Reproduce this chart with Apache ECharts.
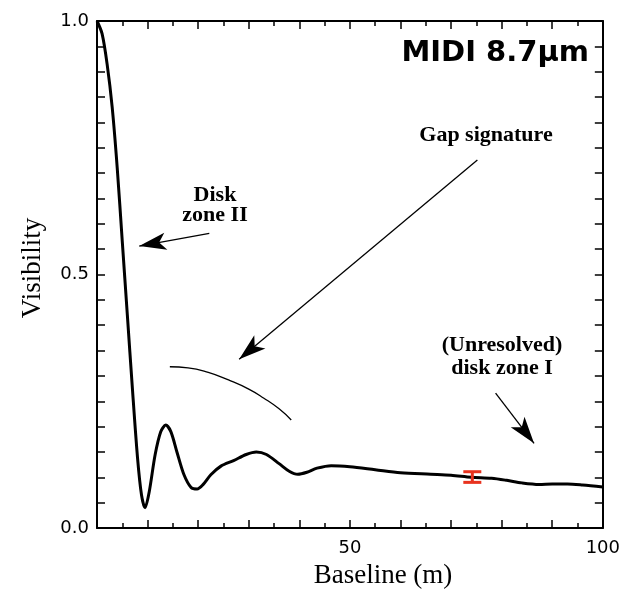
<!DOCTYPE html>
<html>
<head>
<meta charset="utf-8">
<script src="https://cdn.jsdelivr.net/npm/echarts@6/dist/echarts.min.js"></script>
<style>
  html, body { margin: 0; padding: 0; background: #fff; }
  #chart { width: 623px; height: 589px; }
</style>
</head>
<body>
<div id="chart"></div>
<script>
// model visibility curve (baseline in m, visibility)
const baseline = [0, 1, 2, 3, 4, 5, 6, 7, 8, 8.8, 9.5, 10.3, 11.5, 12.6, 13.6, 14.6, 15.8, 17.2, 18.6, 19.8,
  21, 22.5, 24.5, 27, 29.5, 31.5, 33.5, 36, 38, 39.7, 41.5, 43.5, 46.3, 50, 55, 60, 66, 70, 74, 78,
  81, 84, 87.4, 90, 93, 96, 100]
const visibility = [1.0, 0.975, 0.915, 0.83, 0.71, 0.565, 0.42, 0.275, 0.14, 0.065, 0.04, 0.07, 0.145, 0.19, 0.203, 0.19, 0.15, 0.105, 0.08, 0.077,
  0.086, 0.105, 0.122, 0.133, 0.145, 0.15, 0.145, 0.127, 0.112, 0.106, 0.110, 0.118, 0.123, 0.121, 0.115, 0.109, 0.106, 0.104, 0.100, 0.098,
  0.094, 0.089, 0.086, 0.087, 0.087, 0.085, 0.081]

// gap signature arc
const gapX = [14.4, 18, 22, 26, 30, 33, 36, 38.4]
const gapY = [0.318, 0.316, 0.307, 0.292, 0.274, 0.256, 0.235, 0.213]

// MIDI measurement: [baseline, low, high]
const midiPoint = [[74.2, 0.090, 0.111]]

// annotation arrows: [fromX, fromY, toX, toY]
const arrows = [
  [22.2, 0.581, 8.35, 0.556],
  [75.2, 0.726, 28.1, 0.333],
  [78.8, 0.266, 86.4, 0.167]
]

const xLabels = [50, 100]
const yLabels = [0, 0.5, 1]

const chart = echarts.init(document.getElementById('chart'))

const serif = '"Liberation Serif", "DejaVu Serif", serif'
const sans = '"DejaVu Sans", "Liberation Sans", sans-serif'

function xAxisOf (pos) {
  return {
    type: 'value', position: pos, min: 0, max: 100, interval: 10,
    axisLine: { show: true, onZero: false, lineStyle: { color: '#000', width: 2 } },
    axisTick: { show: true, inside: true, length: 8, lineStyle: { color: '#000', width: 1.5 } },
    minorTick: { show: true, splitNumber: 2, length: 5, lineStyle: { color: '#000', width: 1.5 } },
    splitLine: { show: false },
    axisLabel: {
      show: pos === 'bottom', margin: 11, color: '#000', fontFamily: sans, fontSize: 18,
      formatter: v => xLabels.some(l => Math.abs(l - v) < 1e-6) ? String(v) : ''
    }
  }
}

function yAxisOf (pos) {
  return {
    type: 'value', position: pos, min: 0, max: 1, interval: 0.05,
    axisLine: { show: true, onZero: false, lineStyle: { color: '#000', width: 2 } },
    axisTick: { show: true, inside: true, length: 8, lineStyle: { color: '#000', width: 1.5 } },
    splitLine: { show: false },
    axisLabel: {
      show: pos === 'left', margin: 8, color: '#000', fontFamily: sans, fontSize: 18,
      formatter: v => yLabels.some(l => Math.abs(l - v) < 1e-6) ? v.toFixed(1) : ''
    }
  }
}

const options = {
  animation: false,
  grid: { left: 97, right: 19, top: 21, bottom: 61 },
  xAxis: [xAxisOf('bottom'), xAxisOf('top')],
  yAxis: [yAxisOf('left'), yAxisOf('right')],
  series: [
    {
      type: 'line',
      data: baseline.map((b, i) => [b, visibility[i]]),
      smooth: 0.3,
      showSymbol: false,
      lineStyle: { color: '#000', width: 3 },
      z: 5
    },
    {
      type: 'line',
      data: gapX.map((b, i) => [b, gapY[i]]),
      smooth: 0.5,
      showSymbol: false,
      lineStyle: { color: '#000', width: 1.3 },
      markLine: {
        silent: true,
        symbol: ['none', 'arrow'],
        symbolSize: [13, 27],
        label: { show: false },
        lineStyle: { color: '#000', width: 1.3, type: 'solid' },
        data: arrows.map(a => [{ coord: [a[0], a[1]] }, { coord: [a[2], a[3]] }])
      }
    },
    {
      type: 'custom',
      data: midiPoint,
      z: 10,
      renderItem: (params, api) => {
        const lo = api.coord([api.value(0), api.value(1)])
        const hi = api.coord([api.value(0), api.value(2)])
        const w = 9
        const style = { stroke: '#e8321e', lineWidth: 3 }
        return {
          type: 'group',
          children: [
            { type: 'line', shape: { x1: lo[0], y1: lo[1], x2: hi[0], y2: hi[1] }, style },
            { type: 'line', shape: { x1: lo[0] - w, y1: lo[1], x2: lo[0] + w, y2: lo[1] }, style },
            { type: 'line', shape: { x1: hi[0] - w, y1: hi[1], x2: hi[0] + w, y2: hi[1] }, style }
          ]
        }
      }
    }
  ],
  graphic: [
    { type: 'text', x: 589, y: 53, style: { text: 'MIDI 8.7µm', font: 'bold 29px ' + sans, fill: '#000', align: 'right', verticalAlign: 'middle' } },
    { type: 'text', x: 486, y: 135, style: { text: 'Gap signature', font: 'bold 22px ' + serif, fill: '#000', align: 'center', verticalAlign: 'middle' } },
    { type: 'text', x: 215, y: 205, style: { text: 'Disk\nzone II', font: 'bold 22px ' + serif, lineHeight: 20, fill: '#000', align: 'center', verticalAlign: 'middle' } },
    { type: 'text', x: 502, y: 357, style: { text: '(Unresolved)\ndisk zone I', font: 'bold 22px ' + serif, lineHeight: 23, fill: '#000', align: 'center', verticalAlign: 'middle' } },
    { type: 'text', x: 383, y: 576, style: { text: 'Baseline (m)', font: '27px ' + serif, fill: '#000', align: 'center', verticalAlign: 'middle' } },
    { type: 'text', x: 33, y: 268, rotation: Math.PI / 2, style: { text: 'Visibility', font: '27px ' + serif, fill: '#000', align: 'center', verticalAlign: 'middle' } }
  ]
}

chart.setOption(options)
</script>
</body>
</html>
